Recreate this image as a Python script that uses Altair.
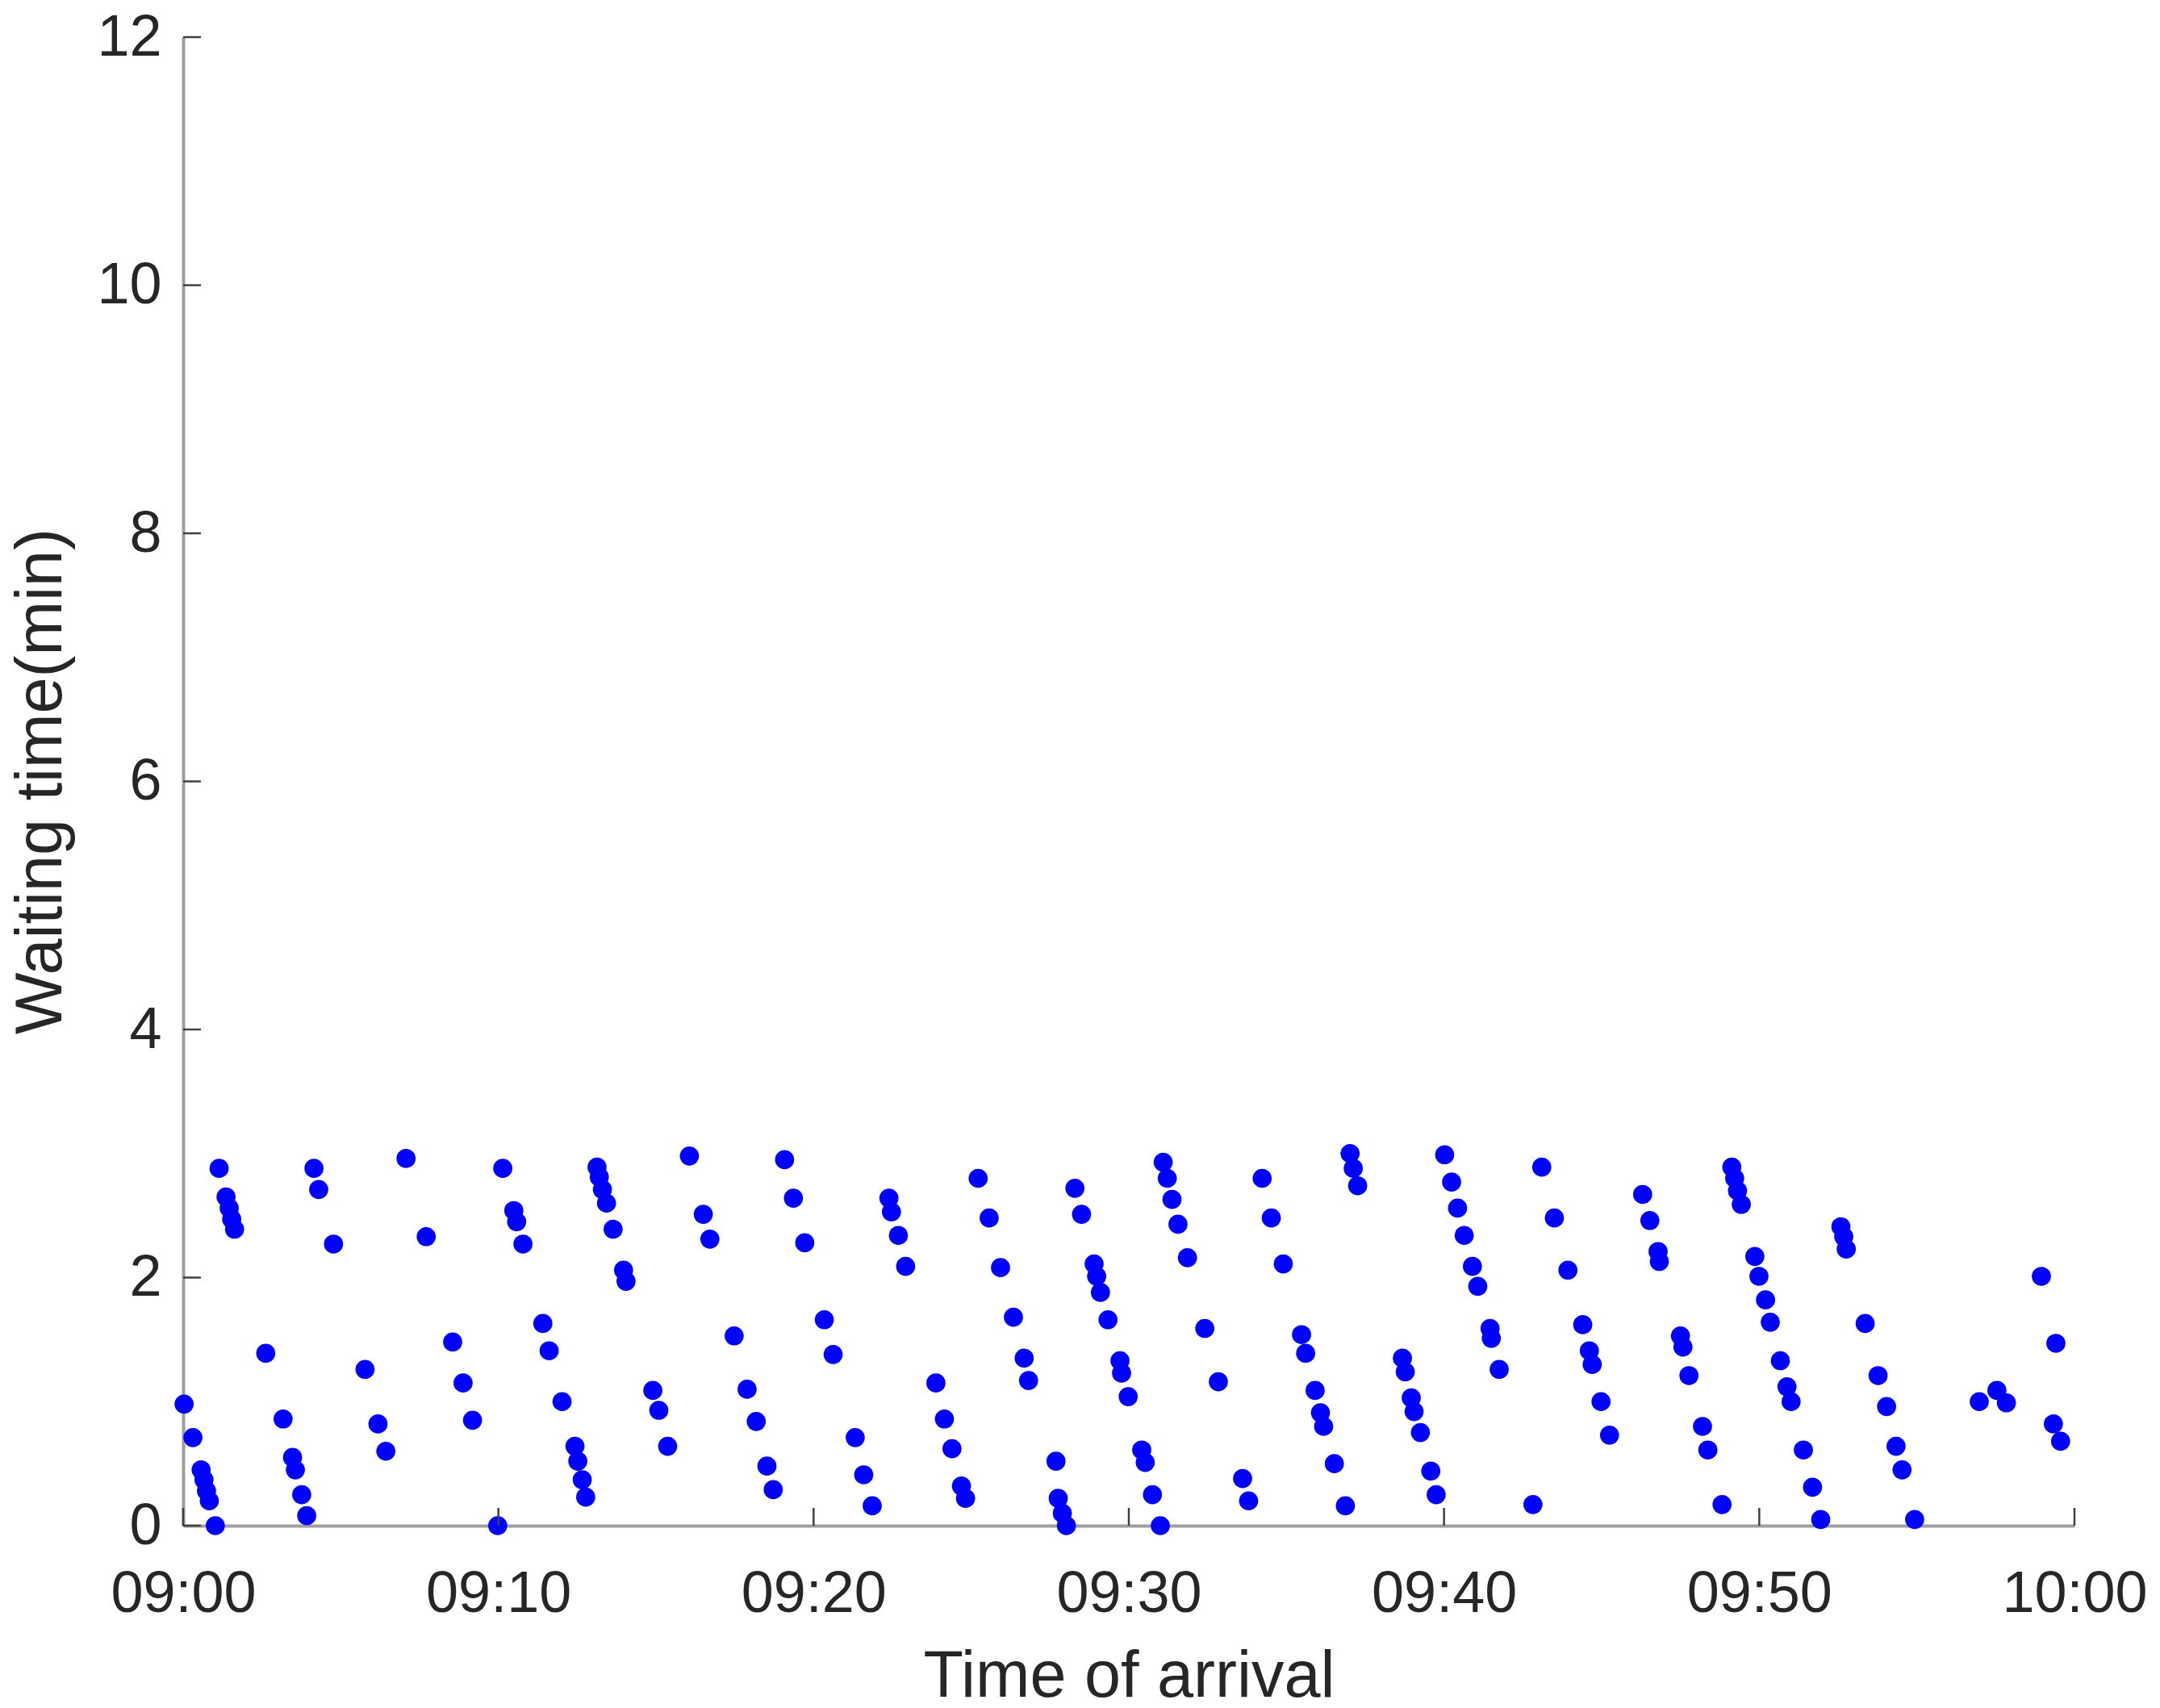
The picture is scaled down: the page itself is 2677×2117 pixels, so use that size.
import altair as alt
import pandas as pd

# ---- data (minutes after 09:00, waiting time in min) ----
arrival_min = [
    1.14, 1.36, 1.46, 1.54, 1.63, 4.15, 4.30, 4.77, 7.07, 7.71,
    2.62, 5.77, 8.55, 8.88, 9.18, 0.03, 0.31, 0.57, 0.66, 0.74,
    0.83, 1.02, 3.17, 3.47, 3.56, 3.76, 3.92, 6.18, 6.43, 9.98,
    10.14, 10.49, 10.58, 10.78, 13.13, 13.20, 13.30, 13.43, 13.64, 13.97,
    14.05, 16.06, 16.50, 16.71, 19.08, 19.36, 19.72, 11.41, 11.61, 12.02,
    12.43, 12.52, 12.66, 12.77, 14.90, 15.09, 15.37, 17.48, 17.89, 18.18,
    18.52, 18.72,
    22.39, 22.47, 22.69, 22.92, 25.22, 25.57, 25.93, 26.34, 26.68, 26.82,
    28.29, 28.50, 28.90, 28.98, 29.10, 29.34, 29.72, 29.77, 29.98, 20.34,
    20.62, 23.88, 24.15, 24.39, 24.69, 24.82, 21.32, 21.59, 21.86, 27.69,
    27.76, 27.89, 28.02,
    31.09, 31.22, 31.37, 31.56, 31.86, 34.23, 34.52, 34.90, 37.02, 37.12,
    37.26, 40.02, 40.24, 40.43, 32.41, 32.84, 30.41, 30.52, 30.75, 31.00,
    33.61, 33.80, 35.48, 35.61, 35.91, 36.08, 36.18, 36.52, 36.87, 38.68,
    38.77, 38.96, 39.05, 39.25, 39.58, 39.75,
    40.64, 40.90, 41.07, 41.46, 41.50, 41.75, 43.10, 43.50, 43.93, 44.40,
    44.61, 44.70, 44.98, 45.25, 42.82, 46.30, 46.53, 46.79, 46.83, 47.50,
    47.58, 47.77, 48.20, 48.37, 48.82, 49.13, 49.22, 49.31, 49.43, 49.86,
    49.99, 50.20, 50.35,
    50.67, 50.88, 51.01, 51.40, 51.69, 51.95, 52.59, 52.68, 52.76, 53.36,
    53.77, 54.04, 54.34, 54.53, 54.93, 56.98, 57.54, 57.84, 58.95, 59.41,
    59.33, 59.56,
]
waiting_min = [
    2.88, 2.65, 2.56, 2.47, 2.39, 2.88, 2.71, 2.27, 2.96, 2.33,
    1.39, 1.26, 1.48, 1.15, 0.85, 0.98, 0.71, 0.45, 0.37, 0.28,
    0.20, 0.00, 0.86, 0.55, 0.45, 0.25, 0.08, 0.82, 0.60, 0.00,
    2.88, 2.54, 2.45, 2.27, 2.89, 2.81, 2.71, 2.60, 2.39, 2.06,
    1.97, 2.98, 2.51, 2.31, 2.95, 2.64, 2.28, 1.63, 1.41, 1.00,
    0.64, 0.52, 0.37, 0.23, 1.09, 0.93, 0.64, 1.53, 1.10, 0.84,
    0.48, 0.29,
    2.64, 2.53, 2.34, 2.09, 2.80, 2.48, 2.08, 1.68, 1.35, 1.17,
    2.72, 2.51, 2.11, 2.01, 1.88, 1.66, 1.33, 1.23, 1.04, 1.66,
    1.38, 1.15, 0.86, 0.62, 0.32, 0.22, 0.71, 0.41, 0.16, 0.52,
    0.22, 0.10, 0.00,
    2.93, 2.80, 2.63, 2.43, 2.16, 2.80, 2.48, 2.11, 3.00, 2.88,
    2.74, 2.99, 2.77, 2.56, 1.59, 1.16, 0.61, 0.51, 0.25, 0.00,
    0.38, 0.20, 1.54, 1.39, 1.09, 0.91, 0.80, 0.50, 0.16, 1.35,
    1.24, 1.03, 0.92, 0.75, 0.44, 0.25,
    2.34, 2.09, 1.93, 1.59, 1.51, 1.26, 2.89, 2.48, 2.06, 1.62,
    1.41, 1.30, 1.00, 0.73, 0.17, 2.67, 2.46, 2.21, 2.13, 1.53,
    1.44, 1.21, 0.80, 0.61, 0.17, 2.89, 2.80, 2.70, 2.59, 2.17,
    2.01, 1.82, 1.64,
    1.33, 1.12, 1.00, 0.61, 0.31, 0.05, 2.41, 2.33, 2.23, 1.63,
    1.21, 0.96, 0.64, 0.45, 0.05, 1.00, 1.09, 0.99, 2.01, 1.47,
    0.82, 0.68,
]
y_ticks = [0, 2, 4, 6, 8, 10, 12]
x_ticks = ["09:00", "09:10", "09:20", "09:30", "09:40", "09:50", "10:00"]

DAY = "2024-01-01"
W, H = 2344, 1845
FONT = "Liberation Sans"
TXT = "#262626"

def dt(hm):
    h, m = hm.split(":")
    return alt.DateTime(year=2024, month=1, date=1, hours=int(h), minutes=int(m))

pts = pd.DataFrame({
    "arrival": pd.Timestamp(f"{DAY} 09:00") + pd.to_timedelta(arrival_min, unit="min"),
    "wait": waiting_min,
})
xt = pd.DataFrame({"t": pd.to_datetime([f"{DAY} {s}" for s in x_ticks])})
yt = pd.DataFrame({"v": y_ticks})

x_scale = alt.Scale(domain=[dt(x_ticks[0]), dt(x_ticks[-1])], nice=False)
y_scale = alt.Scale(domain=[y_ticks[0], y_ticks[-1]], nice=False)

x_axis = alt.Axis(
    values=[dt(s) for s in x_ticks], format="%H:%M", grid=False,
    ticks=False, tickSize=0, labelPadding=49, labelFlush=False, labelOverlap=False,
    labelLimit=0, labelFont=FONT, labelFontSize=72, labelColor=TXT,
    domainColor="#9e9e9e", domainWidth=4,
    title="Time of arrival", titleFont=FONT, titleFontSize=81, titleFontWeight="normal",
    titleColor=TXT, titleBaseline="alphabetic", titleY=211, titleLimit=0,
)
y_axis = alt.Axis(
    values=y_ticks, format="d", grid=False, ticks=False, tickSize=0, labelPadding=27,
    labelLimit=0, labelFont=FONT, labelFontSize=72, labelColor=TXT, labelFlush=False,
    domainColor="#9e9e9e", domainWidth=4,
    title="Waiting time(min)", titleFont=FONT, titleFontSize=81, titleFontWeight="normal",
    titleColor=TXT, titleAngle=270, titleBaseline="alphabetic", titleAlign="center",
    titleX=-152, titleY=922, titleLimit=0,
)

points = alt.Chart(pts).mark_circle(size=560, color="#0000ff", opacity=1).encode(
    x=alt.X("arrival:T", scale=x_scale, axis=x_axis),
    y=alt.Y("wait:Q", scale=y_scale, axis=y_axis),
)

ytick_marks = alt.Chart(yt).mark_rule(color="#404040", strokeWidth=2.5).encode(
    y=alt.Y("v:Q", scale=y_scale),
    x=alt.value(0), x2=alt.value(22),
)
xtick_marks = alt.Chart(xt).mark_rule(color="#404040", strokeWidth=2.5).encode(
    x=alt.X("t:T", scale=x_scale),
    y=alt.value(H), y2=alt.value(H - 22),
)

chart = alt.layer(points, ytick_marks, xtick_marks).properties(
    width=W, height=H,
    autosize=alt.AutoSizeParams(type="none"),
    padding={"left": 219, "top": 38, "right": 90, "bottom": 215},
    background="white",
).configure_view(strokeWidth=0)

chart.save("out.html", embed_options={"renderer": "svg", "actions": False})
